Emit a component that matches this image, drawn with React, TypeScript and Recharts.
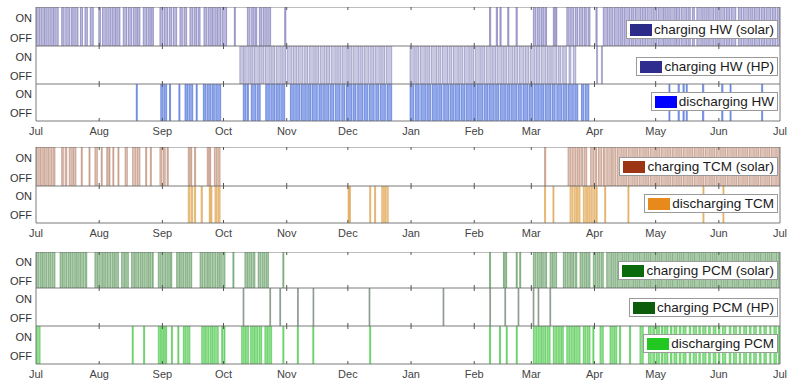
import React from 'react';
import { ComposedChart, Line, XAxis, YAxis, ReferenceArea, ReferenceLine } from 'recharts';

// days counted from 1 July
const monthTicks = [0, 31, 62, 92, 123, 153, 184, 215, 243, 274, 304, 335, 365];
const monthLabels = ['Jul', 'Aug', 'Sep', 'Oct', 'Nov', 'Dec', 'Jan', 'Feb', 'Mar', 'Apr', 'May', 'Jun', 'Jul'];

// ON periods [start, end] in days
const hwSolarOn: [number, number][] = [
  [0.3, 1.8], [2.4, 4.2], [4.8, 6.5], [7.2, 8.6], [9.2, 10.9],
  [12.6, 13.8], [14.6, 16.4], [17.2, 18.3], [19.0, 20.6], [21.8, 22.8], [24.0, 25.2], [26.6, 28.1],
  [30.8, 31.6], [32.6, 34.5], [35.2, 36.8], [37.4, 39.0], [39.6, 41.2],
  [42.8, 44.4], [45.2, 46.9], [47.7, 49.2], [49.8, 51.0],
  [52.6, 54.2], [54.9, 56.1], [56.7, 57.6],
  [60.8, 62.3], [63.0, 64.6], [65.4, 66.6], [67.4, 69.0],
  [70.6, 71.8], [72.6, 73.9],
  [75.5, 76.9], [77.6, 78.8], [79.5, 80.5],
  [82.4, 83.8], [84.5, 86.0], [86.6, 88.4], [89.0, 90.6], [91.3, 93.5],
  [97.3, 97.8],
  [103.7, 105.0], [105.8, 107.0], [107.6, 108.3], [109.6, 110.8], [111.5, 113.0], [113.7, 115.1],
  [122.0, 122.6],
  [222.5, 223.1], [225.8, 226.4], [227.6, 228.2], [231.4, 232.0], [235.5, 236.1],
  [244.0, 245.2], [245.9, 247.3], [248.0, 249.2], [249.8, 250.5],
  [253.8, 254.6], [255.0, 255.5],
  [260.4, 261.6], [262.3, 263.8], [264.6, 265.7], [266.5, 268.2], [268.9, 270.0], [270.8, 271.8],
  [274.7, 275.3],
  [278.3, 280.6], [281.2, 283.0], [283.7, 286.1], [286.8, 288.0], [288.6, 291.2], [291.9, 293.4],
  [294.1, 296.8], [297.4, 299.0], [299.7, 302.3], [303.0, 304.6], [305.3, 307.9], [308.5, 310.2],
  [310.9, 313.6], [314.2, 315.8], [316.5, 319.1], [319.8, 321.0], [322.0, 323.0], [324.2, 326.9],
  [327.6, 329.3], [330.0, 332.4], [333.1, 334.7], [335.4, 338.0], [338.7, 340.3], [341.0, 343.3],
  [344.6, 346.2], [346.9, 349.5], [350.2, 351.8], [352.5, 355.0], [355.7, 357.4], [358.1, 360.6],
  [361.3, 362.9], [363.6, 365],
];

const hwHpOn: [number, number][] = [
  [100.0, 101.8], [102.4, 104.6], [105.3, 106.5], [107.2, 109.6], [110.3, 111.8], [112.5, 114.9],
  [115.6, 117.0], [117.8, 120.3], [121.0, 122.4], [123.2, 125.6], [126.3, 127.9], [128.6, 131.0],
  [131.8, 133.2], [134.0, 136.5], [137.2, 138.6], [139.4, 141.8], [142.5, 144.0], [144.8, 147.3],
  [148.0, 149.5], [150.2, 152.7], [153.4, 154.9], [155.6, 158.2], [158.9, 160.3], [161.0, 163.4],
  [164.2, 165.7], [166.4, 168.9], [169.6, 171.0], [171.8, 174.5],
  [183.5, 185.6], [186.3, 187.8], [188.6, 191.0], [191.7, 193.2], [194.0, 196.5], [197.2, 198.6],
  [199.4, 201.9], [202.6, 204.0], [204.8, 207.2], [207.9, 209.4], [210.2, 212.6], [213.3, 214.7],
  [215.5, 218.0], [218.7, 220.1], [220.9, 223.3], [224.0, 225.5], [226.2, 228.7], [229.4, 230.8],
  [231.6, 234.0], [234.7, 236.2], [237.0, 239.4], [240.1, 241.6], [242.4, 244.8], [245.5, 247.0],
  [247.8, 250.2], [250.9, 252.3], [253.0, 255.4], [256.2, 257.5], [258.4, 260.2], [261.5, 262.4],
  [263.6, 264.8],
  [275.0, 275.5], [277.4, 277.9],
];

const hwDischargeOn: [number, number][] = [
  [49.2, 49.7], [61.2, 62.4], [63.0, 64.1], [65.5, 66.0], [70.1, 70.6], [73.1, 74.4], [75.0, 76.9],
  [78.6, 79.1], [82.1, 83.4], [84.0, 85.6], [86.3, 87.5], [88.2, 90.6],
  [101.7, 103.0], [103.6, 104.2], [105.6, 107.8], [108.5, 110.0], [112.7, 114.5], [115.2, 117.0],
  [117.7, 119.8], [120.5, 122.0], [124.8, 126.7], [127.4, 129.3], [130.0, 132.6], [133.3, 134.9],
  [135.6, 138.0], [138.8, 140.4], [141.1, 143.6], [144.3, 146.0], [146.8, 149.2], [150.0, 151.5],
  [152.3, 154.8], [155.5, 157.0], [157.8, 160.4], [161.1, 162.6], [163.4, 165.9], [166.7, 168.2],
  [169.0, 171.4], [172.2, 174.5],
  [183.5, 185.4], [186.2, 188.0], [188.8, 191.4], [192.1, 193.6], [194.4, 196.9], [197.6, 199.2],
  [200.0, 202.5], [203.2, 204.8], [205.5, 208.0], [208.7, 210.3], [211.0, 213.6], [214.3, 215.9],
  [216.6, 219.2], [219.9, 221.5], [222.2, 224.8], [225.5, 227.0], [227.8, 230.3], [231.0, 232.6],
  [233.3, 235.9], [236.6, 238.1], [238.9, 241.4], [242.1, 243.7], [244.4, 246.9], [247.6, 249.2],
  [249.9, 252.5], [253.2, 254.7], [255.5, 258.0], [258.7, 260.3], [261.0, 263.6], [264.3, 265.8],
  [267.6, 268.8], [269.5, 271.2],
  [310.5, 311.0], [315.0, 315.6], [317.4, 318.0], [319.0, 319.5], [327.0, 327.6], [336.4, 337.0],
  [340.5, 341.0], [356.0, 356.5],
];

const tcmSolarOn: [number, number][] = [
  [0.2, 1.6], [2.2, 3.6], [4.2, 5.5], [6.1, 7.7], [8.3, 9.3],
  [12.6, 13.4], [14.3, 15.1], [16.3, 17.8], [18.4, 19.6], [22.2, 22.7], [26.0, 26.5], [28.9, 30.1],
  [32.0, 32.5], [34.7, 35.4], [35.9, 36.3], [37.7, 38.2], [40.2, 40.7], [43.7, 44.8], [47.4, 49.0],
  [49.6, 51.0], [53.8, 54.3], [56.1, 56.6], [60.8, 61.8], [62.5, 63.4], [64.3, 64.9],
  [74.7, 75.4], [75.9, 76.4], [77.8, 78.3], [84.0, 84.8], [85.2, 85.7], [87.5, 88.6], [89.2, 90.3],
  [249.5, 250.1], [261.0, 262.4], [263.0, 264.8], [265.4, 266.6], [267.3, 268.2], [268.9, 270.2],
  [272.1, 273.5], [274.2, 275.0], [275.9, 277.6], [278.4, 279.2], [280.0, 282.3], [282.9, 284.5],
  [285.2, 287.6], [288.3, 289.8], [290.5, 293.0], [293.7, 295.2], [295.9, 298.4], [299.1, 300.6],
  [301.3, 303.8], [304.5, 306.0], [306.7, 309.2], [309.9, 311.4], [312.1, 314.6], [315.3, 316.8],
  [317.5, 320.0], [320.7, 322.2], [322.9, 325.4], [326.1, 327.6], [328.3, 330.8], [331.5, 333.0],
  [333.7, 336.2], [336.9, 338.4], [339.1, 341.6], [342.3, 343.8], [344.5, 347.0], [347.7, 349.2],
  [349.9, 352.4], [353.1, 354.6], [355.3, 357.8], [358.5, 360.0], [360.7, 363.2], [363.9, 365],
];

const tcmDischargeOn: [number, number][] = [
  [74.7, 75.5], [76.1, 76.9], [77.8, 78.3], [81.0, 81.6], [85.0, 85.5], [85.8, 86.3], [87.8, 88.8],
  [89.3, 90.3],
  [153.1, 153.6], [153.9, 154.2], [163.7, 164.2], [166.1, 166.6], [169.6, 170.8], [171.2, 172.8],
  [249.5, 250.0], [253.6, 254.1], [262.0, 263.4], [264.0, 265.2], [265.7, 266.9], [268.5, 270.0],
  [270.5, 271.8], [272.3, 274.3], [274.8, 275.3], [279.0, 279.5], [290.4, 290.9], [327.2, 327.7],
  [337.0, 337.5],
];

const pcmSolarOn: [number, number][] = [
  [0.0, 1.4], [2.0, 3.2], [3.8, 5.4], [6.0, 7.2], [7.8, 9.3],
  [11.8, 13.0], [13.6, 15.2], [15.8, 17.0], [17.6, 19.3], [19.9, 21.2], [21.8, 23.5], [24.1, 24.9],
  [28.9, 30.2], [30.8, 32.6], [33.2, 34.4], [35.0, 36.7], [37.3, 38.5], [39.1, 40.4],
  [42.0, 43.4], [44.0, 45.3],
  [46.9, 48.3], [48.9, 50.5], [51.1, 52.3], [52.9, 54.6], [55.2, 56.4], [57.0, 57.5],
  [60.0, 61.4], [62.0, 63.6], [64.2, 65.4], [66.0, 66.6],
  [69.0, 70.4], [71.0, 72.6], [73.2, 74.4], [75.0, 76.4],
  [80.5, 81.9], [82.5, 84.1], [84.7, 85.9], [86.5, 88.2], [88.8, 90.0], [90.6, 92.7],
  [96.6, 97.1],
  [102.5, 103.8], [104.4, 105.8], [106.4, 107.4],
  [109.0, 110.3], [110.9, 112.4], [113.0, 114.0],
  [121.1, 121.6],
  [222.5, 223.0], [229.3, 229.8], [230.4, 230.9], [235.6, 236.1], [237.3, 237.8],
  [244.0, 245.3], [245.9, 247.4], [248.0, 248.9], [249.6, 250.5],
  [252.2, 253.4], [254.0, 255.4],
  [258.7, 260.0], [260.6, 262.2], [262.8, 263.7], [264.4, 265.3],
  [266.9, 268.2], [268.8, 270.1], [270.7, 271.8],
  [273.4, 274.6], [275.2, 276.7], [277.3, 278.3],
  [280.0, 282.4], [283.0, 284.6], [285.2, 287.8], [288.4, 290.0], [290.6, 293.2], [293.8, 295.4],
  [296.0, 298.6], [299.2, 300.8], [301.4, 304.0], [304.6, 306.2], [306.8, 309.4], [310.0, 311.6],
  [312.2, 314.8], [315.4, 317.0], [317.6, 320.2], [320.8, 322.4], [323.0, 325.6], [326.2, 327.8],
  [328.4, 331.0], [331.6, 333.2], [333.8, 336.4], [337.0, 338.6], [339.2, 341.8], [342.4, 344.0],
  [344.6, 347.2], [347.8, 349.4], [350.0, 352.6], [353.2, 354.8], [355.4, 358.0], [358.6, 360.2],
  [360.8, 363.4], [364.0, 365],
];

const pcmHpOn: [number, number][] = [
  [101.6, 102.0], [114.7, 115.1], [119.6, 120.0], [128.3, 128.7], [135.9, 136.3], [163.4, 163.8],
  [199.7, 200.1], [222.6, 223.0], [230.0, 230.4], [236.5, 236.9], [243.9, 244.3], [246.3, 246.7],
  [252.1, 252.5],
];

const pcmDischargeOn: [number, number][] = [
  [0.0, 2.0], [47.2, 47.7], [52.8, 53.3], [60.0, 61.3], [61.7, 62.8], [63.2, 64.1], [66.4, 66.9],
  [69.6, 70.1], [72.3, 73.4], [74.0, 75.5], [81.3, 82.6], [83.2, 84.8], [85.4, 86.6], [87.2, 89.4],
  [91.1, 91.6], [92.2, 92.7],
  [100.9, 102.2], [102.8, 104.2], [105.3, 106.6], [107.2, 108.8], [109.4, 110.7], [112.3, 113.6],
  [114.2, 115.6], [121.1, 121.6], [128.2, 128.7], [135.8, 136.3], [163.7, 164.2],
  [222.5, 223.0], [227.4, 227.9], [230.7, 231.2], [235.6, 236.1],
  [244.0, 245.6], [246.2, 248.0], [248.6, 250.2], [250.8, 252.2],
  [253.8, 255.4], [256.0, 257.2], [257.8, 258.7],
  [260.4, 261.8], [262.4, 264.2], [264.8, 266.9],
  [268.5, 269.8], [270.4, 271.8], [273.2, 273.7], [276.7, 278.3],
  [281.6, 283.2], [283.8, 284.9], [286.3, 286.8], [291.2, 291.7], [296.3, 297.9],
  [300.5, 301.8], [302.6, 303.4], [304.2, 305.8], [306.8, 307.6], [308.4, 310.0], [311.3, 312.0],
  [313.0, 314.4], [315.6, 316.4], [317.4, 318.9], [320.5, 321.2], [322.4, 324.0], [325.2, 325.9],
  [327.1, 328.7], [330.0, 330.8], [332.2, 333.6], [334.8, 335.5], [336.8, 338.4], [340.1, 340.9],
  [342.2, 343.6], [345.0, 345.7], [347.2, 348.6], [350.0, 350.8], [352.1, 353.4], [355.0, 355.7],
  [357.1, 358.3], [360.0, 360.6], [362.0, 363.2], [364.2, 364.8],
];

const FONT = '"Liberation Sans", Arial, Helvetica, sans-serif';
const CHART_W = 787;
const AXIS_H = 20;
const Y_MIN = -0.4;
const Y_MAX = 1.55;

interface RowProps {
  on: [number, number][];
  color: string;
  fillOpacity: number;
  strokeOpacity: number;
  label: string;
  swatch: string;
  top: number;
  height: number;
  legendTop: number;
  showAxis?: boolean;
}

const Row = ({ on, color, fillOpacity, strokeOpacity, label, swatch, top, height, legendTop, showAxis }: RowProps) => {
  const frame = [{ t: 0, y: -5 }, { t: 365, y: -5 }];
  const tickLen = (3 / height) * (Y_MAX - Y_MIN);
  return (
    <div style={{ position: 'absolute', left: 0, top, width: CHART_W, height: height + (showAxis ? AXIS_H : 0) }}>
      <ComposedChart
        width={CHART_W}
        height={height + (showAxis ? AXIS_H : 0)}
        data={frame}
        margin={{ top: 0, right: 7, bottom: 0, left: 0 }}
      >
        <XAxis
          dataKey="t"
          type="number"
          domain={[0, 365]}
          ticks={monthTicks}
          interval={0}
          hide={!showAxis}
          height={AXIS_H}
          tickFormatter={(v: number) => monthLabels[monthTicks.indexOf(v)]}
          tick={{ fontSize: 11, fill: '#444', fontFamily: FONT }}
          tickLine={false}
          tickSize={0}
          tickMargin={6}
          axisLine={false}
        />
        <YAxis
          type="number"
          domain={[Y_MIN, Y_MAX]}
          allowDataOverflow
          ticks={[0, 1]}
          width={36}
          tickFormatter={(v: number) => (v === 1 ? 'ON' : 'OFF')}
          tick={{ fontSize: 11, fill: '#333', fontFamily: FONT }}
          tickLine={false}
          tickSize={0}
          tickMargin={4}
          axisLine={false}
        />
        {on.map(([s, e], i) => (
          <ReferenceArea
            key={`on-${i}`}
            x1={s}
            x2={e}
            fill={color}
            fillOpacity={fillOpacity}
            stroke={color}
            strokeOpacity={strokeOpacity}
            strokeWidth={0.8}
            ifOverflow="hidden"
          />
        ))}
        {monthTicks.slice(1, -1).map((m) => (
          <ReferenceLine
            key={`tb-${m}`}
            segment={[{ x: m, y: Y_MIN }, { x: m, y: Y_MIN + tickLen }]}
            stroke="#555"
            strokeWidth={1}
          />
        ))}
        {monthTicks.slice(1, -1).map((m) => (
          <ReferenceLine
            key={`tt-${m}`}
            segment={[{ x: m, y: Y_MAX - tickLen }, { x: m, y: Y_MAX }]}
            stroke="#555"
            strokeWidth={1}
          />
        ))}
        <ReferenceArea x1={0} x2={365} fill="none" stroke="#7a7a7a" strokeWidth={1} />
        <Line dataKey="y" stroke="none" dot={false} isAnimationActive={false} />
      </ComposedChart>
      <div
        style={{
          position: 'absolute',
          right: 9,
          top: legendTop - top,
          display: 'flex',
          alignItems: 'center',
          background: '#fff',
          border: '1px solid #9a9a9a',
          padding: '1px 3px 1px 3px',
          fontFamily: FONT,
          fontSize: 13.5,
          color: '#1a1a1a',
          whiteSpace: 'nowrap',
          lineHeight: '15px',
        }}
      >
        <span style={{ display: 'inline-block', width: 22, height: 12, background: swatch, marginRight: 2 }} />
        {label}
      </div>
    </div>
  );
};

export default function App() {
  return (
    <div style={{ position: 'absolute', left: 0, top: 0, width: 787, height: 380, background: '#fff', overflow: 'hidden' }}>
      <Row on={hwSolarOn} color="#5650a6" fillOpacity={0.4} strokeOpacity={0.6} label="charging HW (solar)" swatch="#2b2a88" top={7} height={39} legendTop={20} />
      <Row on={hwHpOn} color="#625ea6" fillOpacity={0.34} strokeOpacity={0.55} label="charging HW (HP)" swatch="#2f2d8e" top={46} height={38} legendTop={57} />
      <Row on={hwDischargeOn} color="#3860d6" fillOpacity={0.55} strokeOpacity={0.7} label="discharging HW" swatch="#0000ff" top={84} height={37} legendTop={92} showAxis />
      <Row on={tcmSolarOn} color="#a9694c" fillOpacity={0.4} strokeOpacity={0.6} label="charging TCM (solar)" swatch="#9b3513" top={147} height={39} legendTop={157} />
      <Row on={tcmDischargeOn} color="#dc9a3c" fillOpacity={0.55} strokeOpacity={0.75} label="discharging TCM" swatch="#e8891c" top={186} height={37} legendTop={194} showAxis />
      <Row on={pcmSolarOn} color="#3d853d" fillOpacity={0.45} strokeOpacity={0.65} label="charging PCM (solar)" swatch="#0b6a0b" top={252} height={36} legendTop={261} />
      <Row on={pcmHpOn} color="#6f7f6f" fillOpacity={0.5} strokeOpacity={0.8} label="charging PCM (HP)" swatch="#0b5c0b" top={288} height={38} legendTop={298} />
      <Row on={pcmDischargeOn} color="#36c236" fillOpacity={0.55} strokeOpacity={0.75} label="discharging PCM" swatch="#22c722" top={326} height={38} legendTop={334} showAxis />
    </div>
  );
}
